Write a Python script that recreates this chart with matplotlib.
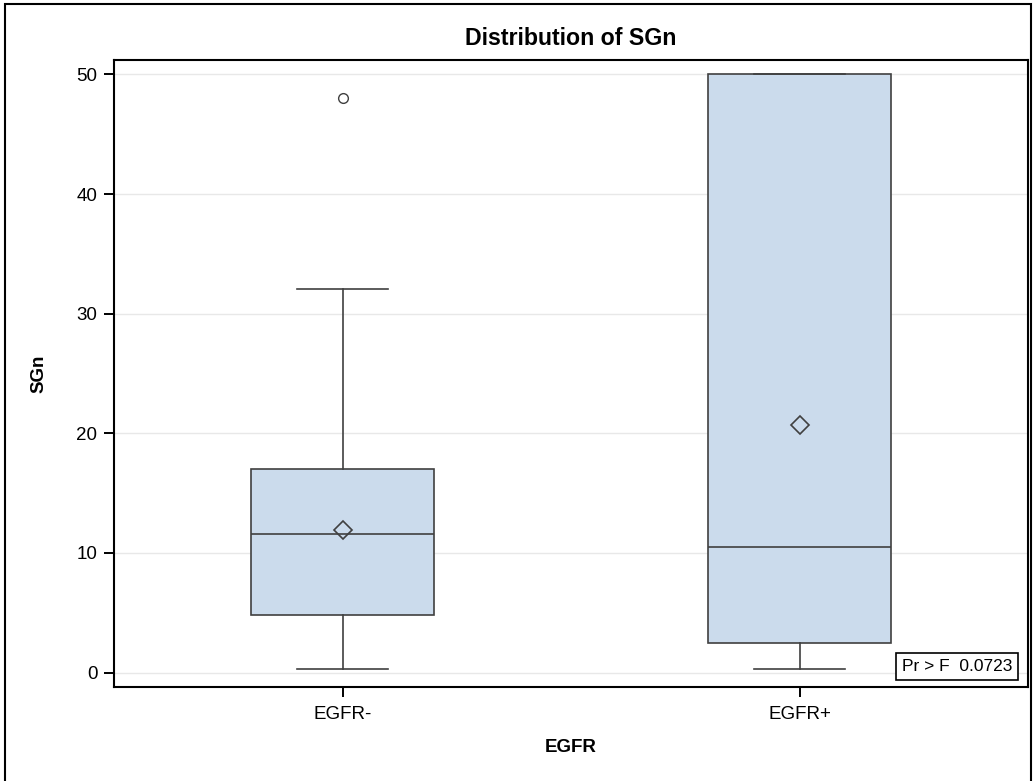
import matplotlib
matplotlib.use('Agg')
import matplotlib.pyplot as plt
from matplotlib.patches import Rectangle

plt.rcParams['font.family'] = ['Liberation Sans', 'DejaVu Sans']

groups = ['EGFR-', 'EGFR+']
q1 = [4.8, 2.5]
median = [11.6, 10.5]
q3 = [17.0, 50.0]
mean = [11.9, 20.7]
whislo = [0.3, 0.3]
whishi = [32.1, 50.0]
outliers = [[48.0], []]
p_value = 0.0723

stats = []
for i in range(len(groups)):
    stats.append({'label': groups[i], 'q1': q1[i], 'med': median[i], 'q3': q3[i],
                  'mean': mean[i], 'whislo': whislo[i], 'whishi': whishi[i],
                  'fliers': outliers[i]})

fig = plt.figure(figsize=(10.36, 7.81), dpi=100)
ax = fig.add_axes([114 / 1036, 1 - 687 / 781, 914 / 1036, 627 / 781])

edge = '#404040'
ax.bxp(stats, positions=[0, 1], widths=0.4, patch_artist=True, showmeans=True,
       boxprops=dict(facecolor='#cbdbec', edgecolor=edge, linewidth=1.2),
       medianprops=dict(color=edge, linewidth=1.2),
       whiskerprops=dict(color=edge, linewidth=1.2),
       capprops=dict(color=edge, linewidth=1.2),
       meanprops=dict(marker='D', markerfacecolor='none', markeredgecolor=edge,
                      markersize=9, markeredgewidth=1.2),
       flierprops=dict(marker='o', markerfacecolor='none', markeredgecolor=edge,
                       markersize=7, markeredgewidth=1.0))

ax.set_xlim(-0.5, 1.5)
ax.set_ylim(-1.2, 51.2)
ax.set_yticks([0, 10, 20, 30, 40, 50])
ax.set_xticks([0, 1])
ax.set_xticklabels(groups)
ax.yaxis.grid(True, color='#e8e8e8', linewidth=1.0)
ax.set_axisbelow(True)
ax.tick_params(labelsize=13.5, length=7, width=1.4, colors='black')
ax.tick_params(axis='y', pad=5)
ax.tick_params(axis='x', pad=7)
for s in ax.spines.values():
    s.set_linewidth(1.5)

ax.set_title('Distribution of SGn', fontsize=16.7, fontweight='bold', pad=11)
ax.set_xlabel('EGFR', fontsize=13.5, fontweight='bold', labelpad=11)
ax.set_ylabel('SGn', fontsize=13.5, fontweight='bold', labelpad=21)

ax.text(0.9825, 0.0207, 'Pr > F  %.4f' % p_value, transform=ax.transAxes,
        ha='right', va='bottom', fontsize=12.5,
        bbox=dict(boxstyle='square,pad=0.35', facecolor='white', edgecolor='black', linewidth=1.2))

fig.patches.append(Rectangle((5 / 1036, -0.05), 1026 / 1036, 1.05 - 4 / 781,
                             transform=fig.transFigure, fill=False,
                             edgecolor='black', linewidth=1.5))

fig.savefig('out.png', dpi=100)
